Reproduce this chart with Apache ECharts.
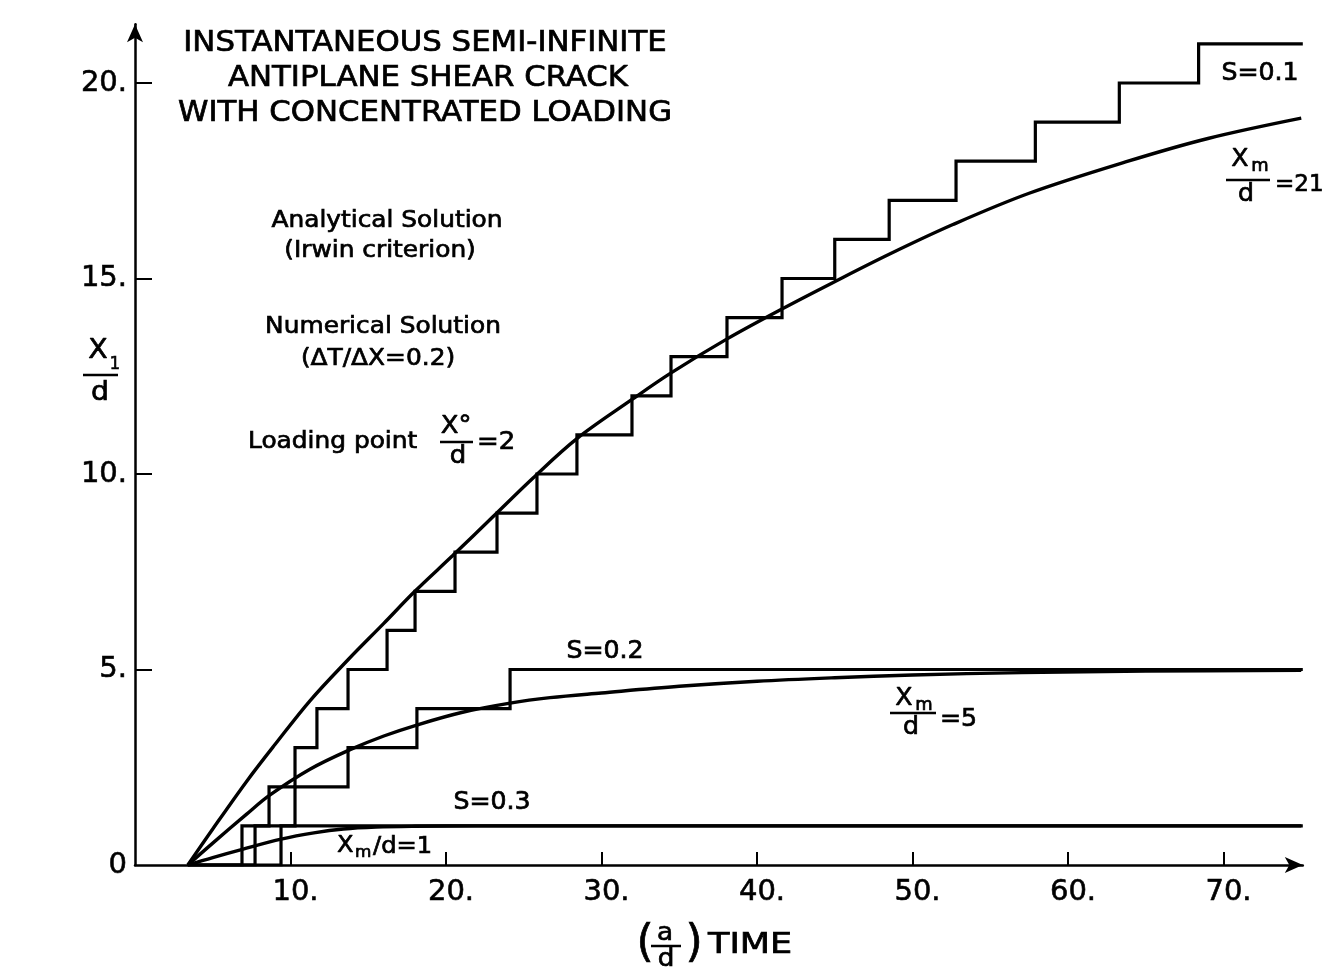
<!DOCTYPE html>
<html>
<head>
<meta charset="utf-8">
<title>Instantaneous semi-infinite antiplane shear crack</title>
<script src="https://cdn.jsdelivr.net/npm/echarts@6/dist/echarts.min.js"></script>
<style>
  html, body { margin: 0; padding: 0; background: #fff; }
  #chart { width: 1322px; height: 973px; }
</style>
</head>
<body>
<div id="chart"></div>
<script>
// ---- axis ticks ----
const timeTicks = [10, 20, 30, 40, 50, 60, 70];
const lengthTicks = [0, 5, 10, 15, 20];

// time at which the crack starts running, and end of the computed run
const crackStart = 3.4;
const runEnd = 75.1;

// ---- numerical solution: times at which the tip advances one cell ----
const jumpsS01 = [6.88, 8.62, 10.29, 11.70, 13.70, 16.21, 18.01, 20.58, 23.28, 25.85,
                  28.42, 31.96, 34.47, 38.07, 41.61, 45.0, 48.5, 52.8, 57.9, 63.3, 68.4];
const jumpsS02 = [7.72, 10.29, 13.70, 18.13, 24.12];
const jumpsS03 = [9.39];

// ---- analytical solution (Irwin criterion) ----
const xm21Time = [3.4, 5.0, 7.2, 9.0, 11.25, 13.7, 16.0, 18.0, 20.45, 23.0, 25.6, 28.4,
                  31.94, 34.45, 38.05, 41.6, 44.9, 48.5, 52.6, 57.5, 63.7, 69.0, 75.0];
const xm21Len  = [0, 0.92, 2.15, 3.08, 4.2, 5.25, 6.18, 7.0, 7.92, 8.9, 9.9, 10.9,
                  11.9, 12.58, 13.45, 14.22, 14.9, 15.62, 16.38, 17.18, 17.98, 18.58, 19.1];

const xm5Time = [3.4, 5.0, 7.18, 8.64, 11.25, 13.83, 16.0, 18.12, 21.0, 24.12, 26.69,
                 30.0, 35.0, 40.0, 45.0, 50.0, 57.0, 65.0, 75.0];
const xm5Len  = [0, 0.56, 1.3, 1.78, 2.45, 2.95, 3.3, 3.58, 3.9, 4.14, 4.28,
                 4.4, 4.57, 4.7, 4.79, 4.86, 4.92, 4.96, 4.98];

const xm1Time = [3.4, 5.0, 6.9, 9.4, 11.5, 13.4, 15.5, 18.0, 22.0, 30.0, 75.0];
const xm1Len  = [0, 0.19, 0.4, 0.66, 0.82, 0.92, 0.97, 0.99, 1.0, 1.0, 1.0];

// ---- helpers ----
const FONT = 'DejaVu Sans';
const INK = '#000';

function staircase(jumps) {
  const pts = [[crackStart, 0]];
  jumps.forEach((t, i) => pts.push([t, i + 1]));
  pts.push([runEnd, jumps.length]);
  return pts;
}
function zip(xs, ys) { return xs.map((x, i) => [x, ys[i]]); }

function stepSeries(name, jumps) {
  return {
    name, type: 'line', step: 'end', data: staircase(jumps),
    symbol: 'none', silent: true,
    lineStyle: { color: INK, width: 3.2, join: 'miter' }
  };
}
function curveSeries(name, xs, ys) {
  return {
    name, type: 'line', data: zip(xs, ys), smooth: 0.35,
    symbol: 'none', silent: true,
    lineStyle: { color: INK, width: 3.4 }
  };
}

// text element (x, y is the anchor; scaled horizontally about the anchor)
function txt(x, y, s, size, align, sx) {
  return {
    type: 'text', x, y, scaleX: sx || 1.08, silent: true,
    style: { text: s, fill: INK, fontSize: size, fontFamily: FONT,
             align: align || 'center', verticalAlign: 'middle',
             stroke: INK, lineWidth: 0.7 }
  };
}
function rule(x1, x2, y) {
  return { type: 'line', silent: true, shape: { x1, y1: y, x2, y2: y },
           style: { stroke: INK, lineWidth: 2.5 } };
}

const graphics = [
  // heading
  txt(425, 44, 'INSTANTANEOUS SEMI-INFINITE', 28, 'center', 1.1),
  txt(428, 79, 'ANTIPLANE SHEAR CRACK', 28, 'center', 1.1),
  txt(425, 114, 'WITH CONCENTRATED LOADING', 28, 'center', 1.1),

  // notes
  txt(387, 221, 'Analytical Solution', 23, 'center', 1.08),
  txt(380, 251, '(Irwin criterion)', 23, 'center', 1.08),
  txt(383, 327, 'Numerical Solution', 23, 'center', 1.08),
  txt(378, 359, '(\u0394T/\u0394X=0.2)', 23, 'center', 1.08),
  txt(248, 442, 'Loading point', 23, 'left', 1.08),
  txt(456, 427, 'X\u00B0', 24, 'center', 1.08),
  rule(440, 473, 442),
  txt(458, 457, 'd', 24, 'center', 1.08),
  txt(477, 443, '=2', 24, 'left', 1.08),

  // y-axis title  X1 / d
  txt(98, 351, 'X', 27, 'center', 1.05),
  txt(115, 364, '1', 18, 'center', 0.9),
  rule(83, 118, 375),
  txt(100, 393, 'd', 27, 'center', 1.05),

  // x-axis title  (a/d) TIME
  txt(645, 945, '(', 44, 'center', 1.0),
  txt(665, 933, 'a', 25, 'center', 1.05),
  rule(651, 681, 946),
  txt(666, 959, 'd', 25, 'center', 1.05),
  txt(694, 945, ')', 44, 'center', 1.0),
  txt(708, 946, 'TIME', 28, 'left', 1.25),

  // curve labels
  txt(1260, 74, 'S=0.1', 24, 'center', 1.05),
  txt(1240, 160, 'X', 24, 'center', 1.05),
  txt(1260, 167, 'm', 17, 'center', 1.05),
  rule(1226, 1270, 180),
  txt(1246, 195, 'd', 24, 'center', 1.05),
  txt(1275, 185, '=21', 23, 'left', 1.0),

  txt(605, 652, 'S=0.2', 24, 'center', 1.05),
  txt(904, 699, 'X', 24, 'center', 1.05),
  txt(924, 706, 'm', 17, 'center', 1.05),
  rule(890, 936, 713),
  txt(911, 728, 'd', 24, 'center', 1.05),
  txt(940, 720, '=5', 24, 'left', 1.05),

  txt(492, 803, 'S=0.3', 24, 'center', 1.05),
  txt(337, 846, 'X', 23, 'left', 1.05),
  txt(355, 853, 'm', 16, 'left', 1.05),
  txt(373, 847, '/d=1', 23, 'left', 1.05)
];

// ---- plot geometry: 15.55 px per time unit, 39.1 px per length unit ----
const xMax = 75.1, yMax = 21.5;
const gridLeft = 135, gridBottomPx = 865;
const gridTop = gridBottomPx - yMax * 39.1;
const gridRight = 1322 - gridLeft - xMax * 15.55;

const tickLabel = { color: INK, fontFamily: FONT, fontSize: 29,
                    textBorderColor: INK, textBorderWidth: 0.6 };

const chart = echarts.init(document.getElementById('chart'), null, { renderer: 'canvas' });
chart.setOption({
  animation: false,
  backgroundColor: '#fff',
  grid: { left: gridLeft, top: gridTop, right: gridRight, bottom: 973 - gridBottomPx, containLabel: false },
  xAxis: {
    type: 'value', min: 0, max: xMax, interval: 10,
    splitLine: { show: false },
    axisLine: { show: true, onZero: false, symbol: ['none', 'arrow'], symbolSize: [12, 18],
                lineStyle: { color: INK, width: 2.5 } },
    axisTick: { show: true, inside: true, length: 13, customValues: timeTicks,
                lineStyle: { color: INK, width: 2 } },
    axisLabel: Object.assign({ show: true, customValues: timeTicks, margin: 13,
                 padding: [0, 0, 0, 10], formatter: v => v + '.' }, tickLabel)
  },
  yAxis: {
    type: 'value', min: 0, max: yMax, interval: 5,
    splitLine: { show: false },
    axisLine: { show: true, onZero: false, symbol: ['none', 'arrow'], symbolSize: [12, 18],
                lineStyle: { color: INK, width: 2.5 } },
    axisTick: { show: true, inside: true, length: 17, customValues: lengthTicks.slice(1),
                lineStyle: { color: INK, width: 2 } },
    axisLabel: Object.assign({ show: true, customValues: lengthTicks, margin: 8,
                 formatter: v => (v === 0 ? '0' : v + '.') }, tickLabel)
  },
  graphic: graphics,
  series: [
    stepSeries('S=0.1', jumpsS01),
    stepSeries('S=0.2', jumpsS02),
    stepSeries('S=0.3', jumpsS03),
    curveSeries('Xm/d=21', xm21Time, xm21Len),
    curveSeries('Xm/d=5', xm5Time, xm5Len),
    curveSeries('Xm/d=1', xm1Time, xm1Len)
  ]
});
</script>
</body>
</html>
